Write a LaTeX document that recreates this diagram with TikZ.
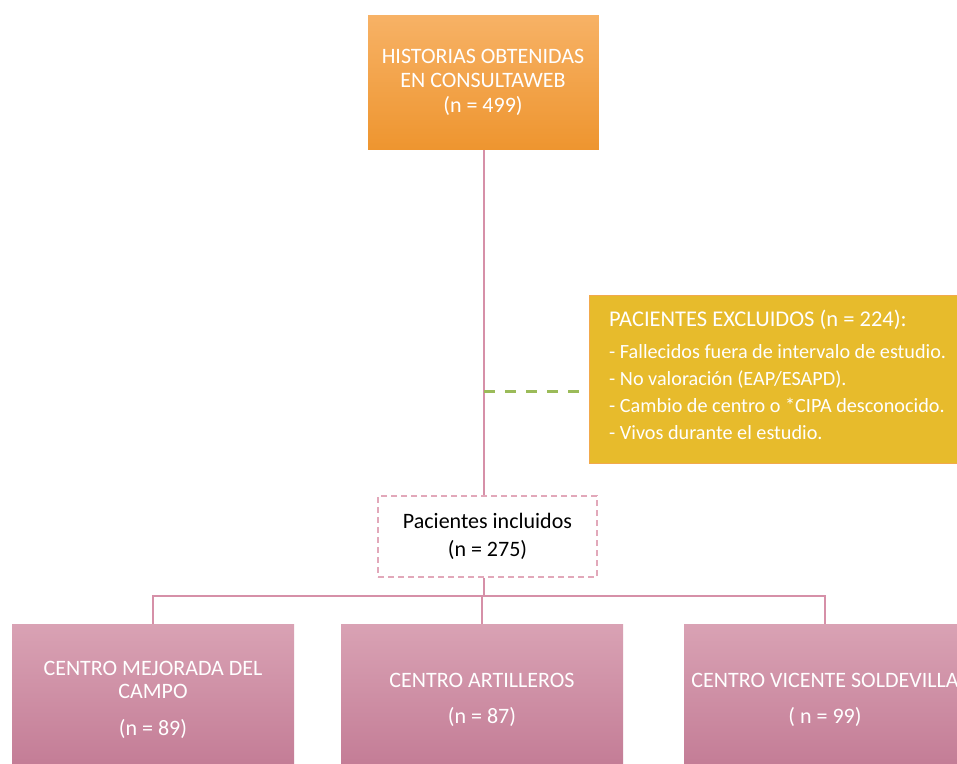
\documentclass[tikz,border=0pt]{standalone}
\usepackage{fontspec}
\setmainfont{Carlito}
\definecolor{orTop}{HTML}{F7B266}
\definecolor{orBot}{HTML}{EE952F}
\definecolor{goldFill}{HTML}{E7BB2C}
\definecolor{goldEdge}{HTML}{F2A94C}
\definecolor{pkTop}{HTML}{D9A2B4}
\definecolor{pkBot}{HTML}{C27A94}
\definecolor{lnPink}{HTML}{D690A8}
\definecolor{dashPink}{HTML}{E2A8BA}
\definecolor{dashGreen}{HTML}{9BBB59}
\tikzset{
  topbox/.style={rectangle, draw=white, line width=0.8pt, top color=orTop, bottom color=orBot,
    minimum width=232pt, minimum height=136pt, inner sep=0pt, align=center,
    text=white, font=\fontsize{22}{24.5}\selectfont},
  exbox/.style={rectangle, draw=goldEdge, line width=1pt, fill=goldFill,
    minimum width=372pt, minimum height=168pt, inner sep=0pt},
  extext/.style={text=white, align=left, inner sep=0pt, font=\fontsize{20.2}{27}\selectfont},
  inbox/.style={rectangle, draw=dashPink, line width=1.6pt, dash pattern=on 6pt off 4pt, fill=white,
    minimum width=219pt, minimum height=81pt, inner sep=0pt, align=center,
    font=\fontsize{22}{28}\selectfont},
  centrebox/.style={rectangle, top color=pkTop, bottom color=pkBot,
    minimum width=282pt, minimum height=151pt, inner sep=0pt, align=center,
    text=white, font=\fontsize{22}{23}\selectfont},
  conn/.style={draw=lnPink, line width=1.2pt},
}
\begin{document}
\begin{tikzpicture}[x=1pt,y=-1pt]
\useasboundingbox (0,0) rectangle (957,763);
\clip (0,0) rectangle (957,763);
\fill[white] (0,0) rectangle (957,763);
% nodes
\node[topbox] (hist) at (483,82) {HISTORIAS OBTENIDAS\\EN CONSULTAWEB\\(n = 499)};
\node[exbox, anchor=west] (excl) at (589,379) {};
\node[extext, anchor=north west] (exct) at (609,310) {{\fontsize{22.5}{27}\selectfont PACIENTES EXCLUIDOS (n = 224):}\\[5pt]
- Fallecidos fuera de intervalo de estudio.\\
- No valoración (EAP/ESAPD).\\
- Cambio de centro o *CIPA desconocido.\\
- Vivos durante el estudio.};
\node[inbox] (incl) at (487.5,536.5) {Pacientes incluidos\\(n = 275)};
\node[centrebox] (c1) at (153,699.5) {CENTRO MEJORADA DEL\\CAMPO\\[14pt](n = 89)};
\node[centrebox] (c2) at (482,699.5) {CENTRO ARTILLEROS\\[13pt](n = 87)};
\node[centrebox] (c3) at (825,699.5) {CENTRO VICENTE SOLDEVILLA\\[13pt]( n = 99)};
% connectors
\coordinate (mid) at (484,391);
\coordinate (bus) at (484,596);
\draw[conn] (hist.south -| mid) -- (mid |- incl.north);
\draw[dashGreen, line width=3pt, dash pattern=on 11pt off 10pt] (mid) -- (excl.west |- mid);
\draw[conn] (mid |- incl.south) -- (bus);
\draw[conn] (c1.north) -- (c1.north |- bus) -- (c3.north |- bus) -- (c3.north);
\draw[conn] (bus) -- (bus -| c2.north) -- (c2.north);
\end{tikzpicture}
\end{document}
